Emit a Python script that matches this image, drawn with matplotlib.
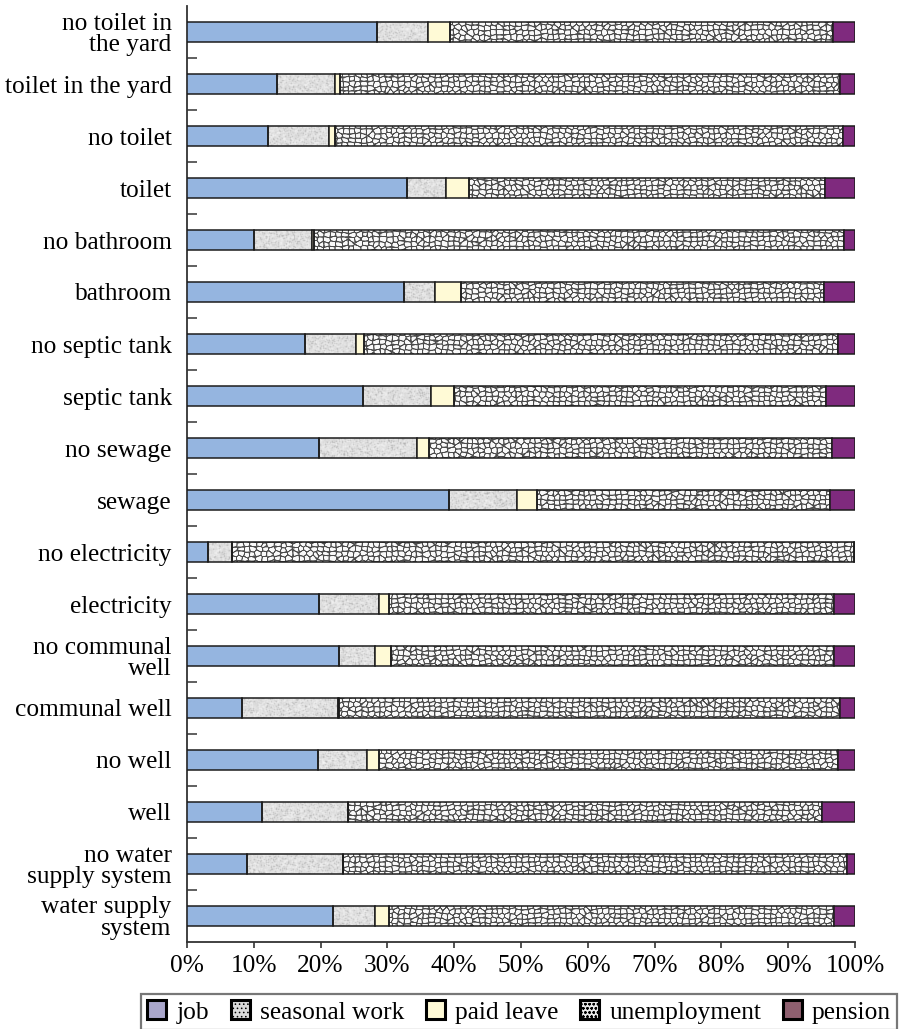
import numpy as np
import matplotlib
matplotlib.use("Agg")
import matplotlib.pyplot as plt
from matplotlib.patches import Patch
from matplotlib.path import Path

# ---- data (shares in %, categories listed top to bottom) ----
categories = [
    "no toilet in\nthe yard", "toilet in the yard", "no toilet", "toilet",
    "no bathroom", "bathroom", "no septic tank", "septic tank",
    "no sewage", "sewage", "no electricity", "electricity",
    "no communal\nwell", "communal well", "no well", "well",
    "no water\nsupply system", "water supply\nsystem",
]
job = [28.4, 13.4, 12.1, 33.0, 10.0, 32.5, 17.7, 26.3, 19.8, 39.2,
       3.2, 19.8, 22.7, 8.3, 19.6, 11.2, 9.0, 21.8]
seasonal_work = [7.7, 8.8, 9.2, 5.8, 8.7, 4.6, 7.6, 10.2, 14.7, 10.2,
                 3.6, 8.9, 5.5, 14.3, 7.4, 12.9, 14.4, 6.3]
paid_leave = [3.3, 0.7, 0.9, 3.4, 0.3, 3.9, 1.2, 3.4, 1.8, 3.0,
              0.0, 1.6, 2.4, 0.2, 1.7, 0.0, 0.0, 2.2]
unemployment = [57.3, 74.9, 76.0, 53.3, 79.4, 54.3, 70.9, 55.7, 60.2, 43.9,
                93.0, 66.6, 66.3, 75.0, 68.7, 70.9, 75.4, 66.5]
pension = [3.3, 2.2, 1.8, 4.5, 1.6, 4.7, 2.6, 4.4, 3.5, 3.7,
           0.2, 3.1, 3.1, 2.2, 2.6, 5.0, 1.2, 3.2]
x_ticks = list(range(0, 101, 10))
legend_labels = ["job", "seasonal work", "paid leave", "unemployment", "pension"]

plt.rcParams["font.family"] = ["Liberation Serif", "DejaVu Serif"]
plt.rcParams["hatch.linewidth"] = 0.6
FS = 18.3

FIG_W, FIG_H = 899, 1029
fig = plt.figure(figsize=(FIG_W / 100, FIG_H / 100), dpi=100)
ax_l, ax_r, ax_t, ax_b = 187, 855, 6, 942
ax = fig.add_axes([ax_l / FIG_W, 1 - ax_b / FIG_H,
                   (ax_r - ax_l) / FIG_W, (ax_b - ax_t) / FIG_H])

# ---- procedural textures sized to the axes in pixels ----
PW, PH = ax_r - ax_l, ax_b - ax_t
yy, xx = np.mgrid[0:PH, 0:PW].astype(float)


def hash2(a, b):
    return np.modf(np.abs(np.sin(a * 12.9898 + b * 78.233)) * 43758.5453)[0]


def smooth(img):
    return (img * 4 + np.roll(img, 1, 0) + np.roll(img, -1, 0)
            + np.roll(img, 1, 1) + np.roll(img, -1, 1)) / 8.0


# cellular mesh (Voronoi cells around jittered grid seeds)
cw, ch = 6.2, 4.7
gx = np.floor(xx / cw)
gy = np.floor(yy / ch)
d1 = np.full(xx.shape, 1e9)
d2 = np.full(xx.shape, 1e9)
for di in (-1, 0, 1):
    for dj in (-1, 0, 1):
        cx = gx + di
        cy = gy + dj
        sx = (cx + 0.5 + 0.6 * (hash2(cx, cy) - 0.5)) * cw
        sy = (cy + 0.5 + 0.5 * (hash2(cy + 31.0, cx + 17.0) - 0.5)) * ch
        d = np.hypot(xx - sx, yy - sy)
        nd1 = np.minimum(d1, d)
        d2 = np.minimum(d2, np.maximum(d1, d))
        d1 = nd1
gap = d2 - d1
t = np.clip((gap - 0.6) / 1.1, 0, 1)
cells = 0.30 + (0.98 - 0.30) * t
cell_rgb = np.dstack([cells] * 3)

# speckled light grey
n1 = hash2(xx, yy)
n2 = hash2(np.floor(xx / 3), np.floor(yy / 2) + 7.0)
grey = 0.88 - 0.10 * (n1 - 0.5) - 0.06 * (n2 - 0.5)
grey = np.where(n1 > 0.9, grey - 0.12, grey)
grey = smooth(grey)
grey_rgb = np.dstack([grey] * 3)

# ---- stacked bars ----
ypos = np.arange(len(categories))
h = 0.4
edge = dict(edgecolor="#1c1c1c", linewidth=1.1)
left = np.zeros(len(categories))
b_job = ax.barh(ypos, job, left=left, height=h, color="#95B5E0", zorder=3, **edge)
left += job
b_sea = ax.barh(ypos, seasonal_work, left=left, height=h, facecolor="none", zorder=3, **edge)
left += seasonal_work
b_pl = ax.barh(ypos, paid_leave, left=left, height=h, color="#FFFAD6", zorder=3, **edge)
left += paid_leave
b_un = ax.barh(ypos, unemployment, left=left, height=h, facecolor="none", zorder=3, **edge)
left += unemployment
b_pen = ax.barh(ypos, pension, left=left, height=h, color="#7F2A7E", zorder=3, **edge)


def textured(bars, rgb):
    paths = [r.get_path().transformed(r.get_patch_transform()) for r in bars]
    clip = Path.make_compound_path(*paths)
    im = ax.imshow(rgb, extent=(0, 100, len(categories) - 0.5, -0.5),
                   aspect="auto", interpolation="nearest", zorder=2)
    im.set_clip_path(clip, ax.transData)


textured(b_sea, grey_rgb)
textured(b_un, cell_rgb)

# ---- axes styling ----
ax.set_xlim(0, 100)
ax.set_ylim(len(categories) - 0.5, -0.5)
ax.set_xticks(x_ticks)
ax.set_xticklabels([f"{t}%" for t in x_ticks], fontsize=FS)
ax.set_yticks(ypos)
ax.set_yticklabels(categories, fontsize=FS)
for lab in ax.get_yticklabels():
    lab.set_linespacing(0.95)
ax.set_yticks(np.arange(0.5, len(categories) - 1, 1.0), minor=True)
ax.tick_params(axis="y", which="major", length=0, pad=11)
ax.tick_params(axis="y", which="minor", direction="in", length=7, width=1.2, color="#444")
ax.tick_params(axis="x", direction="out", length=4.5, width=1.2, color="#333", pad=5)
for s in ("top", "right"):
    ax.spines[s].set_visible(False)
for s in ("left", "bottom"):
    ax.spines[s].set_color("#333")
    ax.spines[s].set_linewidth(1.3)

# ---- legend ----
handles = [
    Patch(facecolor="#A9A6CB", edgecolor="black", linewidth=2.2),
    Patch(facecolor="#DADADA", edgecolor="#999", hatch="....", linewidth=2.2),
    Patch(facecolor="#FFFAD6", edgecolor="black", linewidth=2.2),
    Patch(facecolor="#E8E8E8", edgecolor="#555", hatch="oooo", linewidth=2.2),
    Patch(facecolor="#8E5F6F", edgecolor="black", linewidth=2.2),
]
leg = fig.legend(handles, legend_labels, loc="upper left",
                 bbox_to_anchor=(141 / FIG_W, 1 - 994 / FIG_H),
                 ncol=5, fontsize=FS, frameon=True, fancybox=False,
                 handlelength=0.75, handleheight=0.75, handletextpad=0.4,
                 columnspacing=0.85, borderpad=0.25, borderaxespad=0)
leg.get_frame().set_edgecolor("#555")
leg.get_frame().set_linewidth(1.6)
for hd in leg.legend_handles:
    hd.set_edgecolor("black")

fig.savefig("out.png", dpi=100)
